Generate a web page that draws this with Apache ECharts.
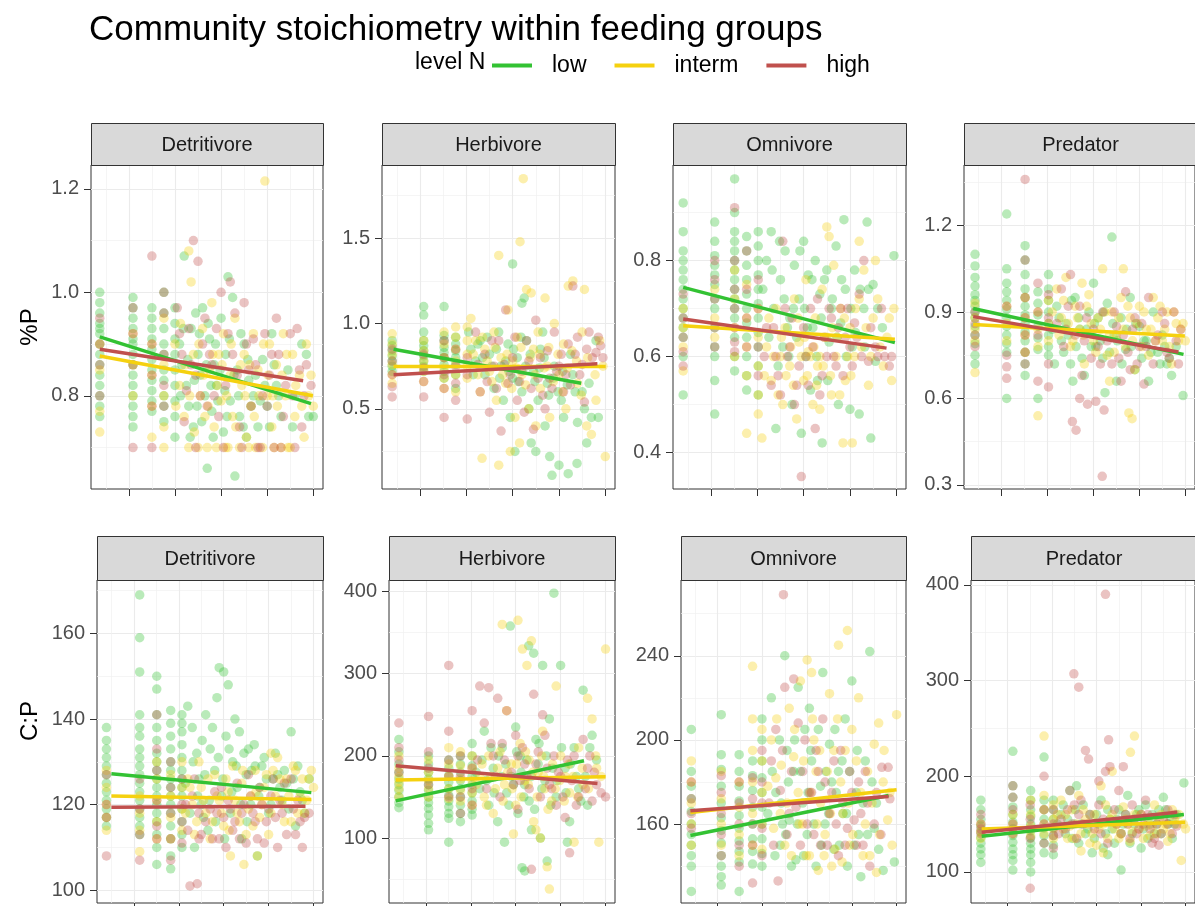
<!DOCTYPE html>
<html><head><meta charset="utf-8">
<script src="https://cdn.jsdelivr.net/npm/echarts@6/dist/echarts.min.js"></script>
<style>html,body{margin:0;padding:0;background:#fff}#c{width:1195px;height:906px}</style>
</head><body><div id="c"></div>
<script>
// ---------- categories & axes ----------
const groups = ['Detritivore','Herbivore','Omnivore','Predator'];
const levels = ['low','interm','high'];
const levelColors = ['#33C233','#F5D10F','#C0504D'];
const variables = ['%P','C:P'];
const xTicks = [1,2,3,4,5];
const xRange = [0.18, 5.21];
const yTicksP  = [[0.8,1.0,1.2],[0.5,1.0,1.5],[0.4,0.6,0.8],[0.3,0.6,0.9,1.2]];
const yRangeP  = [[0.62,1.246],[0.03,1.93],[0.324,0.999],[0.286,1.41]];
const yTicksCP = [[100,120,140,160],[100,200,300,400],[160,200,240],[100,200,300,400]];
const yRangeCP = [[97,172.5],[21,414],[122.5,276],[67.6,405]];

// ---------- fitted lines [x0, y0, x1, y1] per group ----------
const fitPLow     = [[0.37,0.914,4.95,0.785],[0.43,0.85,4.48,0.65],[0.40,0.744,4.97,0.629],[0.38,0.912,4.96,0.753]];
const fitPInterm  = [[0.37,0.877,4.99,0.80],[0.43,0.748,5.01,0.748],[0.40,0.664,4.97,0.636],[0.38,0.857,4.99,0.817]];
const fitPHigh    = [[0.37,0.89,4.78,0.829],[0.43,0.70,4.83,0.764],[0.40,0.678,4.79,0.6175],[0.38,0.884,4.85,0.761]];
const fitCPLow    = [[0.50,127.2,4.95,122.8],[0.33,145.3,4.52,194],[0.39,154.6,4.82,173.6],[0.42,137.4,4.96,160]];
const fitCPInterm = [[0.50,122.0,4.95,121.2],[0.33,170.8,5.0,174.5],[0.39,165.5,5.0,176.3],[0.42,145,4.99,152]];
const fitCPHigh   = [[0.50,119.4,4.82,119.6],[0.33,187.9,4.82,166.4],[0.39,166.3,4.82,173.1],[0.42,141.5,4.81,162.4]];

// ---------- points: each row is [x, y, y, ...] ----------
// %P
const pDetLow = [[0.37,1.0,0.98,0.96,0.94,0.93,0.92,0.9,0.88,0.86,0.84,0.82,0.8,0.78,0.76],[1.09,0.99,0.97,0.95,0.93,0.91,0.9,0.88,0.86,0.84,0.82,0.8,0.78,0.76,0.74],[1.5,0.97,0.95,0.93,0.91,0.89,0.87,0.85,0.83,0.81,0.79,0.77],[1.76,1.0,0.96,0.93,0.9,0.88,0.85,0.83,0.8,0.78,0.75],[2.0,0.97,0.94,0.91,0.88,0.85,0.82,0.79,0.76,0.72],
 [2.1,0.9],[2.15,0.86],[2.2,1.07],[2.25,0.82],[2.3,0.78],[2.35,0.93],[2.4,0.74],[2.45,0.96],[2.5,0.88],[2.55,0.84],[2.6,0.97],[2.65,0.8],[2.7,0.66],[2.75,0.91],[2.8,0.77],[2.85,0.86],[2.9,0.82],[3.0,0.95],[3.05,0.73],[3.1,0.88],[3.15,1.03],[3.2,0.79],[3.25,0.99],[3.3,0.645],[3.35,0.85],[3.4,0.76],[3.5,0.9],[3.55,0.72],[3.6,0.83],[3.7,0.8],[3.8,0.74],[3.9,0.87],[4.0,0.78],[4.1,0.92],[4.2,0.82],[4.3,0.76],[4.45,0.85],[4.6,0.8],[4.75,0.9],[4.9,0.76],
 [2.12,0.8],[2.18,0.93],[2.28,0.87],[2.33,0.72],[2.42,0.83],[2.48,0.78],[2.53,0.92],[2.58,0.75],[2.68,0.86],[2.72,0.94],[2.78,0.82],[2.83,0.72],[2.88,0.9],[2.93,0.79],[2.98,0.85],[3.08,0.81],[3.13,0.76],[3.18,0.91],[3.28,0.84],[3.38,0.8],[3.43,0.92],[3.48,0.74],[3.58,0.87],[3.65,0.78],[3.75,0.84],[3.85,0.79],[3.95,0.82],[4.05,0.74],[4.15,0.86],[4.25,0.8],[4.55,0.74],[4.85,0.88],[5.0,0.76]];
const pDetInterm = [[0.37,0.73,0.77,0.85,0.9],[1.09,0.8,0.86,0.92],[1.5,0.72,0.78,0.84,0.9],[1.76,0.7,0.74,0.8,0.86,0.95],
 [2.0,0.9],[2.1,0.82],[2.2,0.76],[2.3,1.08],[2.35,1.02],[2.4,0.88],[2.5,0.7],[2.55,0.8],[2.6,0.93],[2.65,0.76],[2.7,0.7],[2.75,0.85],[2.8,0.98],[2.85,0.74],[2.9,0.7],[2.95,0.88],[3.0,0.79],[3.05,0.92],[3.1,0.7],[3.2,0.84],[3.25,0.76],[3.3,0.95],[3.4,0.7],[3.45,0.82],[3.5,0.88],[3.55,0.72],[3.6,0.7],[3.65,0.78],[3.7,0.92],[3.8,0.85],[3.9,0.7],[3.95,1.215],[4.0,0.8],[4.05,0.9],[4.1,0.74],[4.2,0.86],[4.3,0.7],[4.35,0.92],[4.4,0.8],[4.5,0.7],[4.55,0.88],[4.6,0.76],[4.7,0.84],[4.8,0.72],[4.85,0.9],[4.9,0.8],[5.0,0.78],
 [2.02,0.78],[2.12,0.94],[2.22,0.86],[2.32,0.8],[2.42,0.73],[2.52,0.9],[2.62,0.84],[2.72,0.78],[2.82,0.88],[2.92,0.82],[3.02,0.86],[3.12,0.8],[3.22,0.9],[3.32,0.74],[3.42,0.86],[3.52,0.8],[3.62,0.86],[3.72,0.76],[3.82,0.8],[3.92,0.9],[4.02,0.84],[4.12,0.8],[4.22,0.78],[4.32,0.84],[4.42,0.88],[4.62,0.82],[4.75,0.78],[4.95,0.84],[3.15,0.7],[3.75,0.7],[4.15,0.7],[4.45,0.7],[2.3,0.7]];
const pDetHigh = [[0.37,0.8,0.86,0.9,0.95],[1.09,0.7,0.86,0.92,0.97],[1.5,0.7,0.78,0.84,0.9,1.07],[1.76,0.78,0.82,0.88,0.96,1.0],
 [2.05,0.97],[2.15,0.88],[2.25,0.81],[2.3,0.93],[2.4,1.1],[2.45,0.84],[2.5,1.06],[2.6,0.9],[2.7,0.78],[2.8,0.86],[2.9,0.93],[2.95,0.76],[3.0,1.0],[3.05,0.7],[3.1,0.82],[3.2,1.02],[3.25,0.88],[3.3,0.96],[3.4,0.74],[3.45,0.7],[3.5,0.98],[3.6,0.85],[3.7,0.91],[3.8,0.7],[3.9,0.8],[4.0,0.78],[4.1,0.88],[4.2,0.95],[4.3,0.7],[4.4,0.82],[4.5,0.92],[4.6,0.7],[4.65,0.93],[4.7,0.85],[4.8,0.8],[4.95,0.82],
 [2.1,0.92],[2.2,0.75],[2.35,0.86],[2.55,0.8],[2.65,0.95],[2.75,0.88],[2.85,0.8],[3.15,0.92],[3.35,0.84],[3.55,0.9],[3.65,0.78],[3.75,0.86],[3.95,0.92],[4.05,0.84],[4.25,0.88],[4.35,0.76],[4.55,0.8],[4.75,0.74],[4.85,0.86],[3.85,0.7],[4.15,0.7],[2.45,0.7]];
const pHerLow = [[0.4,0.9,0.87,0.84,0.81,0.78,0.75,0.72],[1.08,1.1,1.05,0.95,0.9,0.87,0.84,0.81,0.78,0.75,0.72],[1.52,1.1,0.93,0.9,0.86,0.83,0.8,0.76,0.72,0.68],[1.77,0.92,0.88,0.84,0.8,0.76,0.7,0.62],
 [2.05,0.95],[2.1,0.85],[2.2,0.78],[2.3,0.9],[2.4,0.7],[2.5,0.82],[2.6,0.62],[2.7,0.95],[2.75,0.75],[2.8,0.55],[2.9,0.88],[2.95,0.45],[3.0,1.35,0.68],[3.05,0.25],[3.1,0.8],[3.2,1.12,0.6],[3.25,1.15],[3.3,0.9],[3.35,0.5],[3.4,0.3],[3.45,0.72],[3.5,0.25],[3.55,0.55],[3.6,0.85],[3.65,0.95],[3.7,0.4],[3.75,0.65],[3.8,0.22],[3.85,0.11],[3.9,0.75],[4.0,0.17],[4.05,0.55],[4.1,0.45],[4.2,0.12],[4.25,0.82],[4.3,0.7],[4.39,0.18],[4.4,0.42],[4.5,0.6],[4.6,0.3],[4.7,0.45],[4.8,0.9],[4.85,0.45],
 [2.15,0.7],[2.25,0.88],[2.35,0.8],[2.45,0.92],[2.55,0.75],[2.65,0.85],[2.72,0.68],[2.85,0.78],[2.92,0.72],[3.02,0.85],[3.12,0.66],[3.18,0.92],[3.28,0.75],[3.38,0.82],[3.48,0.66],[3.58,0.74],[3.68,0.8],[3.78,0.58],[3.88,0.68],[3.98,0.6],[4.08,0.72],[4.18,0.64],[4.35,0.6],[4.55,0.5],[4.65,0.65]];
const pHerInterm = [[0.4,0.94,0.88,0.82,0.76,0.7,0.65],[1.08,0.9,0.84,0.78,0.72,0.66],[1.52,0.95,0.88,0.8,0.74,0.68,0.62],[1.77,0.98,0.92,0.85,0.78,0.7,0.6],[2.02,0.98,0.9,0.82,0.75,0.68],
 [2.1,1.03],[2.2,0.9],[2.3,0.6],[2.34,0.21],[2.4,0.85],[2.5,0.72],[2.6,0.95],[2.65,0.55],[2.7,1.4,0.17],[2.75,0.8],[2.85,0.65],[2.9,1.08],[2.95,0.25],[3.0,0.78],[3.05,0.45],[3.1,0.92],[3.15,0.3],[3.16,1.48],[3.23,1.85],[3.2,0.7],[3.3,1.2],[3.35,0.5],[3.4,1.18],[3.45,0.85],[3.5,0.4],[3.55,0.95],[3.6,0.62],[3.7,1.15],[3.75,0.75],[3.8,0.45],[3.9,1.0],[4.0,0.7],[4.1,0.88],[4.15,0.5],[4.2,1.22],[4.3,1.25],[4.4,0.65],[4.5,0.95],[4.55,1.2],[4.6,0.4],[4.7,0.35],[4.8,0.55],[4.95,0.75],[5.0,0.22],
 [2.15,0.82],[2.25,0.7],[2.35,0.92],[2.45,0.78],[2.55,0.66],[2.62,0.86],[2.78,0.7],[2.88,0.82],[2.98,0.62],[3.08,0.74],[3.18,0.86],[3.28,0.64],[3.38,0.8],[3.48,0.7],[3.58,0.82],[3.68,0.74],[3.78,0.86],[3.88,0.66],[3.98,0.82],[4.08,0.6],[4.18,0.74],[4.28,0.84],[4.38,0.78],[4.48,0.58],[4.62,0.8],[4.78,0.7],[4.88,0.9]];
const pHerHigh = [[0.4,0.85,0.78,0.7,0.63,0.57],[1.08,0.82,0.74,0.66,0.57],[1.52,0.9,0.8,0.7,0.62,0.45],[1.77,0.85,0.75,0.65,0.55],[2.02,0.8,0.7,0.44],
 [2.2,0.95],[2.3,0.6],[2.4,0.82],[2.5,0.48],[2.6,0.75],[2.7,0.9],[2.75,0.37],[2.85,1.08],[2.9,0.65],[3.0,0.8],[3.1,0.55],[3.2,0.72],[3.25,0.48],[3.3,0.9],[3.4,0.62],[3.45,0.38],[3.5,1.02],[3.6,0.8],[3.7,0.5],[3.8,0.68],[3.9,0.95],[4.0,0.75],[4.1,0.6],[4.2,0.88],[4.3,1.22],[4.35,0.82],[4.45,0.7],[4.55,0.54],[4.65,0.95],[4.8,0.83],[4.9,0.87],[4.95,0.8],
 [2.25,0.76],[2.45,0.66],[2.55,0.9],[2.65,0.62],[2.82,0.76],[2.95,0.7],[3.05,0.92],[3.15,0.66],[3.35,0.78],[3.55,0.68],[3.65,0.58],[3.75,0.84],[3.85,0.62],[3.95,0.72],[4.05,0.82],[4.15,0.7],[4.25,0.64],[4.4,0.92],[4.5,0.76],[4.6,0.85],[4.72,0.8],[4.85,0.92]];
const pOmnLow = [[0.4,0.92,0.86,0.82,0.8,0.78,0.76,0.74,0.72,0.7,0.68,0.66,0.64,0.6,0.52],[1.08,0.88,0.84,0.81,0.79,0.77,0.75,0.72,0.7,0.66,0.62,0.6,0.55,0.48],[1.51,0.97,0.9,0.86,0.84,0.82,0.8,0.78,0.76,0.74,0.72,0.7,0.68,0.64,0.6,0.57],[1.77,0.85,0.82,0.79,0.76,0.73,0.7,0.67,0.64,0.6,0.56,0.53],[2.02,0.86,0.83,0.8,0.77,0.74,0.71,0.68,0.65,0.62,0.58,0.52],
 [2.2,0.8],[2.3,0.86],[2.35,0.7],[2.4,0.45],[2.5,0.76],[2.55,0.62],[2.6,0.82],[2.65,0.66],[2.7,0.68],[2.75,0.5],[2.8,0.79],[2.9,0.72],[2.95,0.44],[3.0,0.84],[3.05,0.6],[3.1,0.77],[3.15,0.53],[3.2,0.66],[3.25,0.8],[3.3,0.55],[3.35,0.73],[3.4,0.42],[3.5,0.78],[3.55,0.63],[3.6,0.7],[3.7,0.83],[3.75,0.5],[3.8,0.67],[3.87,0.885],[3.9,0.74],[4.0,0.49],[4.05,0.62],[4.1,0.78],[4.2,0.48],[4.3,0.7],[4.37,0.88],[4.4,0.74],[4.45,0.43],[4.55,0.59],[4.95,0.81],
 [2.12,0.74],[2.25,0.64],[2.32,0.78],[2.45,0.58],[2.48,0.84],[2.58,0.72],[2.68,0.6],[2.78,0.7],[2.85,0.64],[2.92,0.82],[3.02,0.7],[3.08,0.66],[3.18,0.76],[3.28,0.6],[3.38,0.68],[3.45,0.76],[3.52,0.55],[3.62,0.72],[3.72,0.64],[3.82,0.76],[3.92,0.6],[4.02,0.7],[4.12,0.65],[4.22,0.74],[4.32,0.62],[4.5,0.75],[4.6,0.7],[4.7,0.66]];
const pOmnInterm = [[0.4,0.7,0.66,0.62,0.57],[1.08,0.74,0.68,0.64],[1.51,0.78,0.72,0.66,0.6],[1.77,0.75,0.68,0.62,0.56,0.44],[2.02,0.7,0.64,0.58,0.52,0.48],
 [2.1,0.43],[2.2,0.62],[2.3,0.55],[2.4,0.7],[2.5,0.6],[2.55,0.5],[2.6,0.66],[2.7,0.58],[2.8,0.72],[2.85,0.47],[2.9,0.63],[3.0,0.55],[3.05,0.76],[3.1,0.61],[3.2,0.5],[3.25,0.68],[3.3,0.58],[3.35,0.49],[3.4,0.74],[3.45,0.64],[3.5,0.87],[3.55,0.85],[3.6,0.52],[3.65,0.79],[3.7,0.6],[3.8,0.7],[3.85,0.42],[3.9,0.55],[4.0,0.66],[4.05,0.42],[4.1,0.6],[4.2,0.72,0.84],[4.3,0.78],[4.4,0.54],[4.5,0.68],[4.55,0.8],[4.65,0.62],[4.8,0.64],[4.9,0.55],[4.95,0.7],
 [2.15,0.56],[2.25,0.68],[2.35,0.6],[2.45,0.52],[2.52,0.64],[2.62,0.56],[2.72,0.62],[2.78,0.54],[2.88,0.68],[2.95,0.6],[3.02,0.64],[3.08,0.56],[3.15,0.6],[3.22,0.62],[3.28,0.54],[3.35,0.6],[3.42,0.58],[3.5,0.64],[3.58,0.56],[3.62,0.66],[3.72,0.64],[3.78,0.52],[3.88,0.68],[3.95,0.6],[4.02,0.56],[4.12,0.7],[4.25,0.62],[4.35,0.66],[4.45,0.6],[4.6,0.72],[4.72,0.58],[4.85,0.68]];
const pOmnHigh = [[0.4,0.73,0.68,0.64,0.61,0.58],[1.08,0.8,0.76,0.72,0.66,0.62],[1.51,0.91,0.8,0.74,0.7,0.66,0.63,0.61],[1.77,0.82,0.74,0.68,0.62],[2.02,0.76,0.7,0.62,0.56],
 [2.2,0.66],[2.3,0.54],[2.4,0.6],[2.5,0.52],[2.55,0.84],[2.6,0.7],[2.7,0.62],[2.8,0.5],[2.9,0.58],[2.95,0.35],[3.0,0.66],[3.1,0.54],[3.2,0.62],[3.25,0.45],[3.3,0.72],[3.4,0.56],[3.5,0.6],[3.6,0.68],[3.7,0.58],[3.8,0.7],[3.9,0.64],[4.0,0.62],[4.1,0.67],[4.2,0.73],[4.3,0.8],[4.4,0.59],[4.6,0.6],[4.75,0.6],[4.85,0.58],[4.9,0.6],
 [2.15,0.6],[2.35,0.66],[2.45,0.56],[2.65,0.6],[2.75,0.68],[2.85,0.54],[3.05,0.6],[3.15,0.7],[3.35,0.52],[3.45,0.64],[3.55,0.7],[3.65,0.6],[3.75,0.66],[3.85,0.56],[3.95,0.7],[4.05,0.58],[4.15,0.64],[4.25,0.6],[4.45,0.66],[4.55,0.62],[4.68,0.7]];
const pPreLow = [[0.42,1.1,1.06,1.02,0.99,0.96,0.94,0.92,0.9,0.88,0.85,0.82,0.79,0.75,0.72],[1.11,1.24,1.05,1.0,0.97,0.94,0.91,0.88,0.85,0.82,0.79,0.76,0.6],[1.51,1.13,1.08,1.03,0.98,0.95,0.92,0.89,0.86,0.83,0.8,0.76,0.72,0.68],[1.79,0.97,0.93,0.89,0.85,0.81,0.77,0.6],[2.02,1.03,0.98,0.94,0.9,0.86,0.82,0.78,0.75],
 [2.2,0.92],[2.3,0.8],[2.4,0.86],[2.5,0.72],[2.55,0.66],[2.6,0.95],[2.7,0.84],[2.8,0.68],[2.9,0.9],[3.0,1.0],[3.05,0.78],[3.1,0.88],[3.2,0.74],[3.25,0.62],[3.3,0.93],[3.4,1.16],[3.45,0.82],[3.5,0.66],[3.6,0.88],[3.7,0.77],[3.8,0.95],[3.9,0.7],[4.0,0.85],[4.1,0.8],[4.2,0.66],[4.3,0.9],[4.4,0.76],[4.5,0.82],[4.6,0.72],[4.7,0.68],[4.8,0.78],[4.95,0.61],
 [2.1,0.84],[2.15,0.72],[2.25,0.88],[2.35,0.76],[2.45,0.82],[2.52,0.94],[2.62,0.78],[2.68,0.88],[2.75,0.74],[2.85,0.84],[2.95,0.78],[3.02,0.86],[3.15,0.8],[3.22,0.9],[3.35,0.76],[3.42,0.86],[3.52,0.8],[3.62,0.72],[3.72,0.84],[3.82,0.78],[3.92,0.86],[4.05,0.74],[4.15,0.8],[4.25,0.76],[4.45,0.72],[4.55,0.78],[4.65,0.74]];
const pPreInterm = [[0.42,0.93,0.88,0.84,0.8,0.69],[1.11,0.92,0.86,0.8],[1.51,0.95,0.88,0.82,0.76],[1.79,0.9,0.84,0.78,0.54],[2.02,0.94,0.86,0.8],
 [2.2,0.98],[2.3,0.88],[2.4,1.02],[2.5,0.78],[2.6,0.92],[2.7,0.84],[2.75,1.0],[2.8,0.72],[2.9,0.96],[3.0,0.8],[3.1,0.88],[3.2,1.05],[3.3,0.75],[3.35,0.66],[3.4,0.9],[3.5,0.82],[3.6,0.95],[3.65,1.05],[3.7,0.78],[3.77,0.55],[3.8,0.88],[3.84,0.53],[3.9,0.7],[4.0,0.92],[4.15,0.84],[4.2,0.75],[4.3,0.95],[4.4,0.88],[4.5,0.8],[4.6,0.9],[4.7,0.72],[4.8,0.86],[4.9,0.84],[5.0,0.8],
 [2.1,0.9],[2.25,0.82],[2.35,0.94],[2.45,0.86],[2.55,0.8],[2.65,0.88],[2.78,0.82],[2.85,0.92],[2.95,0.86],[3.05,0.76],[3.15,0.84],[3.25,0.9],[3.35,0.82],[3.45,0.76],[3.55,0.88],[3.65,0.84],[3.75,0.92],[3.85,0.8],[3.95,0.86],[4.05,0.78],[4.1,0.9],[4.25,0.84],[4.35,0.8],[4.45,0.92],[4.55,0.84],[4.65,0.78],[4.75,0.9],[4.85,0.8],[4.95,0.86]];
const pPreHigh = [[0.42,0.9,0.86,0.82,0.78],[1.11,0.92,0.75,0.71,0.67],[1.51,1.36,1.08,0.95,0.88,0.82,0.76,0.72],[1.79,1.0,0.9,0.82,0.66],[2.02,0.96,0.88,0.72,0.64],
 [2.3,0.98],[2.4,0.84],[2.5,1.03],[2.54,0.52],[2.62,0.49],[2.7,0.6,0.92],[2.75,0.68],[2.8,0.8],[2.87,0.58],[3.05,0.59],[3.1,0.78],[3.19,0.33],[3.2,0.9],[3.23,0.56],[3.4,0.72],[3.5,0.85],[3.6,0.66],[3.7,0.97],[3.8,0.7],[3.9,0.88],[4.0,0.78],[4.1,0.65],[4.2,0.95],[4.3,0.72],[4.4,0.82],[4.5,0.9],[4.6,0.76],[4.75,0.9],[4.85,0.72],
 [2.2,0.86],[2.35,0.78],[2.45,0.92],[2.6,0.82],[2.85,0.88],[2.95,0.74],[3.0,0.84],[3.15,0.72],[3.3,0.8],[3.45,0.9],[3.55,0.74],[3.65,0.82],[3.75,0.76],[3.85,0.84],[3.95,0.72],[4.05,0.86],[4.15,0.78],[4.35,0.8],[4.55,0.86],[4.65,0.74],[4.8,0.8],[4.9,0.84]];
// C:P
const cpDetLow = [[0.39,138,135,133,131,129,127,125,123,121,119,117,115],[1.13,169,159,151,141,138,136,133,131,129,127,125,123,121,119,117,115,113],[1.51,150,147,141,138,135,132,130,128,126,124,122,120,118,116,113,110,106],[1.82,142,139,136,133,130,128,126,124,122,120,118,115,112,108,105],[2.07,141,139,137,134,131,128,126,124,122,119,116,113,110],
 [2.2,143],[2.3,138],[2.35,110],[2.4,132],[2.45,126],[2.5,120],[2.55,117],[2.6,141],[2.65,114],[2.7,133],[2.8,128],[2.85,145],[2.9,152],[2.95,122],[3.0,151],[3.05,136],[3.1,148],[3.15,118],[3.2,130],[3.25,140],[3.3,124],[3.35,137],[3.4,112],[3.5,127],[3.55,133],[3.6,120],[3.7,129],[3.75,108],[3.8,124],[3.9,131],[4.0,118],[4.1,126],[4.2,127],[4.3,121],[4.4,125],[4.5,137],[4.6,115],[4.7,123],[4.8,118],[4.9,126],
 [2.15,125],[2.25,118],[2.32,130],[2.42,122],[2.52,135],[2.58,127],[2.68,121],[2.75,138],[2.82,116],[2.88,131],[2.98,126],[3.02,112],[3.12,133],[3.18,123],[3.28,129],[3.38,120],[3.45,132],[3.52,116],[3.62,128],[3.68,134],[3.78,122],[3.85,129],[3.95,126],[4.05,120],[4.15,132],[4.25,124],[4.35,128],[4.45,119],[4.55,126],[4.65,129],[4.75,121]];
const cpDetInterm = [[0.39,128,124,120,117,114],[1.13,122,118,114,109],[1.51,130,126,121,116,112],[1.82,127,122,117,112],[2.07,130,124,119,114],
 [2.2,126],[2.3,120],[2.4,116],[2.45,130],[2.5,124],[2.6,118],[2.7,112],[2.8,127],[2.9,121],[3.0,115],[3.1,123],[3.15,108],[3.2,129],[3.3,118],[3.4,125],[3.45,106],[3.5,113],[3.6,122],[3.7,128],[3.75,108],[3.8,117],[3.9,124],[4.0,113],[4.05,132],[4.1,128],[4.2,131],[4.3,120],[4.4,126],[4.5,116],[4.6,128],[4.7,122],[4.8,118],[4.9,126],[5.0,124],
 [2.15,118],[2.25,124],[2.35,113],[2.55,121],[2.65,126],[2.75,116],[2.85,122],[2.95,118],[3.05,126],[3.12,114],[3.25,121],[3.35,116],[3.42,128],[3.55,119],[3.65,115],[3.72,123],[3.85,120],[3.95,127],[4.05,118],[4.15,122],[4.25,126],[4.35,116],[4.45,122],[4.55,129],[4.65,118],[4.75,126],[4.85,121],[4.95,128]];
const cpDetHigh = [[0.39,127,120,117,108],[1.13,126,119,113,107],[1.51,141,133,128,121,115,112],[1.82,130,124,118,112,107],[2.07,126,120,116,111],
 [2.2,114],[2.25,101],[2.3,122],[2.41,101.5],[2.45,118],[2.5,113],[2.7,119],[2.8,123],[2.9,112],[3.0,117],[3.1,121],[3.2,114],[3.3,125],[3.4,118],[3.5,111],[3.55,127],[3.6,122],[3.7,116],[3.8,124],[3.9,111],[4.0,119],[4.1,126],[4.2,110],[4.3,118],[4.4,113],[4.5,126],[4.6,113],[4.7,116],[4.8,117],[4.9,118],
 [2.15,120],[2.35,126],[2.45,112],[2.6,116],[2.75,112],[2.85,118],[2.95,124],[3.05,110],[3.15,119],[3.25,116],[3.35,112],[3.45,120],[3.65,118],[3.75,112],[3.85,120],[3.95,116],[4.05,122],[4.15,117],[4.25,121],[4.35,125],[4.55,119],[4.65,121],[4.75,110]];
const cpHerLow = [[0.4,220,205,190,180,172,165,158,150,143,137],[1.06,200,190,180,172,165,158,150,143,136,128,118,110],[1.51,195,185,176,168,160,152,145,138,130,124,95],[1.77,200,190,180,170,160,150,140,130,120],[2.03,215,200,188,175,165,155,145,135,128],
 [2.2,160],[2.3,230],[2.4,140],[2.5,185],[2.6,120],[2.7,210],[2.75,95],[2.8,155],[2.88,358],[2.9,175],[3.0,235],[3.05,130],[3.1,200],[3.14,64],[3.2,165,60],[3.29,334],[3.3,145],[3.35,110],[3.4,325],[3.45,220],[3.5,190],[3.55,100],[3.6,310],[3.65,170],[3.7,72],[3.75,245],[3.85,398],[3.9,150],[4.0,310],[4.1,185],[4.15,95],[4.2,120],[4.3,210],[4.4,160],[4.5,280],[4.55,175],[4.6,140],[4.7,225],[4.8,195],
 [2.12,180],[2.25,195],[2.35,170],[2.45,210],[2.52,155],[2.62,200],[2.68,175],[2.78,190],[2.85,140],[2.95,165],[3.02,205],[3.12,180],[3.18,150],[3.25,195],[3.35,175],[3.42,135],[3.52,215],[3.58,160],[3.68,200],[3.78,140],[3.82,185],[3.92,170],[4.02,210],[4.12,155],[4.22,190],[4.35,175],[4.45,145],[4.65,210]];
const cpHerInterm = [[0.4,200,185,175,168,160,150],[1.06,195,180,170,160,150],[1.51,210,190,175,160,148],[1.77,205,188,172,158,145],[2.03,200,185,170,155,140],
 [2.2,175],[2.3,150],[2.4,200],[2.5,130],[2.6,185],[2.7,360],[2.75,165],[2.8,255],[2.9,190],[2.95,105],[3.0,140],[3.05,365],[3.1,215],[3.15,330],[3.2,170],[3.25,310],[3.3,195],[3.35,340],[3.4,120],[3.45,110],[3.5,180],[3.55,100],[3.6,230],[3.65,160],[3.7,65],[3.75,38],[3.8,145],[3.9,285],[4.0,200],[4.1,175],[4.2,155],[4.3,95],[4.4,210],[4.5,165],[4.6,270],[4.7,245],[4.8,185],[4.85,95],[4.9,175],[5.0,330],
 [2.12,165],[2.25,190],[2.35,140],[2.45,175],[2.55,160],[2.65,205],[2.72,145],[2.82,180],[2.92,160],[3.02,190],[3.12,150],[3.22,205],[3.28,165],[3.38,180],[3.48,150],[3.58,200],[3.62,175],[3.72,135],[3.82,190],[3.88,160],[3.98,170],[4.08,145],[4.18,190],[4.28,175],[4.38,150],[4.48,185],[4.62,160],[4.78,200]];
const cpHerHigh = [[0.4,240,210,195,180],[1.06,248,205,185,165],[1.51,310,230,195,175,150],[1.77,200,175,150,130],[2.03,255,185,160,140],
 [2.2,285],[2.3,240],[2.4,283],[2.5,200],[2.6,270],[2.7,215],[2.8,255],[2.9,180],[3.0,225],[3.05,135],[3.1,170],[3.2,190],[3.3,160],[3.35,62],[3.4,275],[3.5,205],[3.6,250],[3.7,185],[3.8,160],[3.9,140],[4.0,175],[4.1,125],[4.2,82],[4.3,200],[4.4,150],[4.5,220],[4.6,185],[4.7,145],[4.8,165],[4.9,155],[5.0,150],
 [2.15,195],[2.35,160],[2.45,215],[2.55,175],[2.65,150],[2.75,195],[2.95,165],[3.05,200],[3.15,210],[3.25,175],[3.45,190],[3.55,150],[3.65,225],[3.75,165],[3.85,200],[3.95,180],[4.05,150],[4.15,195],[4.25,170],[4.35,140],[4.55,160],[4.65,200],[4.75,180]];
const cpOmnLow = [[0.41,205,185,178,172,166,160,155,150,145,140,128],[1.08,212,193,186,178,170,163,157,151,145,140,135,131],[1.48,193,185,178,171,164,158,152,147,142,128],[1.78,190,183,176,168,160,153,147,141],[1.99,210,200,190,182,175,168,160,153,146,140],
 [2.2,220],[2.3,175],[2.4,150],[2.45,160],[2.5,240],[2.55,195],[2.6,162],[2.7,185],[2.75,143],[2.8,225],[2.9,170],[2.95,205],[3.0,155],[3.05,215],[3.1,190],[3.2,140],[3.3,178],[3.35,232],[3.4,160],[3.5,198],[3.6,148],[3.65,175],[3.7,185],[3.8,165],[3.85,210],[3.9,140],[4.0,228],[4.1,175],[4.15,155],[4.2,135],[4.3,190],[4.4,242],[4.5,158],[4.6,148],[4.7,138],[4.95,142],
 [2.12,165],[2.22,185],[2.28,145],[2.38,200],[2.42,170],[2.52,155],[2.58,180],[2.65,140],[2.72,200],[2.78,160],[2.85,185],[2.92,145],[3.02,175],[3.08,195],[3.15,160],[3.25,205],[3.32,150],[3.42,185],[3.48,165],[3.55,180],[3.62,205],[3.72,150],[3.78,190],[3.88,165],[3.95,185],[4.05,150],[4.12,195],[4.25,170],[4.35,155],[4.45,180],[4.55,170]];
const cpOmnInterm = [[0.41,190,180,170,160,150],[1.08,185,172,160,150],[1.48,180,168,155,145],[1.78,235,210,195,180,165,150],[1.99,205,190,175,160,148],
 [2.2,200],[2.3,182],[2.4,165],[2.5,150],[2.6,215],[2.7,192],[2.8,175],[2.85,228],[2.9,160],[3.0,238],[3.05,145],[3.1,232],[3.15,200],[3.2,185],[3.25,138],[3.3,170],[3.4,155],[3.5,222],[3.55,140],[3.6,195],[3.7,245],[3.75,180],[3.8,165],[3.9,252],[3.95,150],[4.0,205],[4.1,190],[4.2,175],[4.3,160],[4.4,145],[4.5,198],[4.55,137],[4.6,208],[4.7,180],[4.8,162],[4.9,150],[5.0,212],
 [2.12,178],[2.25,158],[2.32,210],[2.42,188],[2.55,170],[2.65,145],[2.72,205],[2.82,160],[2.92,190],[2.98,145],[3.08,175],[3.12,210],[3.22,160],[3.28,195],[3.38,145],[3.45,185],[3.52,165],[3.62,148],[3.68,210],[3.78,142],[3.85,195],[3.92,170],[4.02,155],[4.15,220],[4.25,145],[4.35,185],[4.45,170],[4.62,155],[4.72,195],[4.85,175]];
const cpOmnHigh = [[0.41,180,172,165,158],[1.08,183,175,165,155,145],[1.48,180,170,160,150,140],[1.78,182,172,160,150,132],[1.99,195,180,170,158,145],
 [2.2,190],[2.3,205],[2.35,133],[2.4,176],[2.47,269],[2.5,225],[2.6,165],[2.7,229],[2.8,208],[2.9,185],[3.0,160],[3.1,175],[3.2,195],[3.3,150],[3.4,180],[3.5,165],[3.6,190],[3.7,145],[3.8,170],[3.9,158],[4.0,175],[4.1,150],[4.2,165],[4.3,185],[4.4,140],[4.5,160],[4.67,187],[4.81,187],[4.85,172],
 [2.15,170],[2.25,150],[2.45,195],[2.55,155],[2.65,185],[2.75,168],[2.85,150],[2.95,200],[3.05,175],[3.15,155],[3.25,185],[3.35,210],[3.45,150],[3.55,175],[3.65,160],[3.75,195],[3.85,150],[3.95,185],[4.05,162],[4.15,180],[4.25,150],[4.35,170],[4.55,175],[4.65,155]];
const cpPreLow = [[0.4,175,165,155,148,142,136,130,124,118,110],[1.12,226,190,178,168,160,152,145,138,131,124,118,112,102],[1.52,185,175,165,158,150,143,136,130,124,118,110,100],[1.82,220,175,165,155,146,138,130,120],[2.03,175,165,155,146,138,128,118],
 [2.2,160],[2.3,140],[2.4,185],[2.5,150],[2.55,190],[2.6,130],[2.7,170],[2.8,145],[2.9,120],[3.0,160],[3.1,175],[3.2,140],[3.25,118],[3.3,155],[3.4,130],[3.5,165],[3.55,102],[3.6,150],[3.7,180],[3.8,140],[3.9,160],[4.0,125],[4.1,170],[4.2,150],[4.3,140],[4.4,165],[4.5,178],[4.6,150],[4.7,135],[4.8,160],[4.96,193],
 [2.12,150],[2.25,170],[2.35,155],[2.45,135],[2.52,165],[2.65,150],[2.75,140],[2.85,160],[2.95,135],[3.05,150],[3.15,125],[3.25,165],[3.35,145],[3.45,155],[3.55,140],[3.65,160],[3.75,130],[3.85,150],[3.95,165],[4.05,145],[4.15,135],[4.25,160],[4.35,150],[4.45,140],[4.55,165],[4.65,158],[4.75,150]];
const cpPreInterm = [[0.4,150,142,135],[1.12,160,150,140],[1.52,175,160,148,138],[1.82,242,180,165,150,140],[2.03,170,155,145,135],
 [2.2,175],[2.3,160],[2.4,148],[2.5,135],[2.6,180],[2.65,122],[2.7,165],[2.8,150],[2.9,140],[3.0,128],[3.1,190],[3.15,120],[3.2,170],[3.3,155],[3.35,205],[3.4,145],[3.5,135],[3.6,168],[3.7,150],[3.76,225],[3.8,142],[3.85,242],[4.0,160],[4.1,148],[4.2,138],[4.3,170],[4.4,155],[4.5,145],[4.6,132],[4.7,165],[4.8,150],[4.9,112],[5.0,145],
 [2.12,160],[2.25,145],[2.35,135],[2.45,165],[2.55,150],[2.65,140],[2.75,155],[2.85,130],[2.95,160],[3.05,145],[3.15,150],[3.25,135],[3.35,160],[3.45,150],[3.55,140],[3.65,155],[3.75,132],[3.85,160],[3.95,145],[4.05,135],[4.15,155],[4.25,148],[4.35,140],[4.45,160],[4.55,150],[4.65,140],[4.75,155],[4.85,160],[4.95,150]];
const cpPreHigh = [[0.4,160,150,145,140],[1.12,190,178,165,150,140],[1.51,170,155,145,135,83],[1.82,200,165,150,130],[2.03,165,150,138,125],
 [2.2,155],[2.3,145],[2.4,185],[2.49,307],[2.5,170],[2.6,293,160],[2.7,150],[2.75,227],[2.82,218],[3.05,195],[3.1,140],[3.2,390,205],[3.27,238],[3.3,210],[3.4,165],[3.5,185],[3.6,210],[3.7,150],[3.8,170],[3.9,140],[4.0,160],[4.1,175],[4.2,145],[4.3,135],[4.4,128],[4.5,155],[4.6,165],[4.7,140],[4.8,148],
 [2.15,140],[2.35,165],[2.45,150],[2.55,135],[2.65,175],[2.85,160],[2.95,145],[3.05,170],[3.15,155],[3.25,130],[3.45,150],[3.55,140],[3.65,160],[3.75,135],[3.85,155],[3.95,145],[4.05,150],[4.15,160],[4.25,130],[4.35,150],[4.45,140],[4.6,150],[4.75,160]];

// ---------- assemble ----------
const pctP = [[pDetLow,pDetInterm,pDetHigh],[pHerLow,pHerInterm,pHerHigh],[pOmnLow,pOmnInterm,pOmnHigh],[pPreLow,pPreInterm,pPreHigh]];
const ratioCP = [[cpDetLow,cpDetInterm,cpDetHigh],[cpHerLow,cpHerInterm,cpHerHigh],[cpOmnLow,cpOmnInterm,cpOmnHigh],[cpPreLow,cpPreInterm,cpPreHigh]];
const fits = [[fitPLow,fitPInterm,fitPHigh],[fitCPLow,fitCPInterm,fitCPHigh]];

function expand(rows){const out=[];rows.forEach(r=>{for(let k=1;k<r.length;k++)out.push([r[0],r[k]]);});return out;}

// layout (pixels)
const gridTop = [165, 580], gridHeight = [324, 323], stripTop = [123, 536];
const gridLeft = [[91,382,673,964],[97,389,681,971]];
const gridWidth = [[232,233,233,233],[226,226,225,226]];
const FONT = "'Liberation Sans', Arial, Helvetica, sans-serif";

const grid=[], xAxis=[], yAxis=[], series=[], graphic=[];
for (let r=0;r<2;r++){
  for (let g=0;g<4;g++){
    const i=r*4+g;
    const ticks = r===0?yTicksP[g]:yTicksCP[g];
    const range = r===0?yRangeP[g]:yRangeCP[g];
    const step = ticks[1]-ticks[0];
    grid.push({left:gridLeft[r][g],top:gridTop[r],width:gridWidth[r][g],height:gridHeight[r],show:true,borderColor:'#333333',borderWidth:1,backgroundColor:'#ffffff',containLabel:false});
    xAxis.push({gridIndex:i,type:'value',min:xRange[0],max:xRange[1],minInterval:1,maxInterval:1,
      axisLine:{show:false},axisTick:{show:true,customValues:xTicks,length:7,lineStyle:{color:'#333333',width:1}},
      axisLabel:{show:false},splitLine:{show:true,lineStyle:{color:'#EBEBEB',width:1.1}},
      minorTick:{show:false,splitNumber:2},minorSplitLine:{show:true,lineStyle:{color:'#F1F1F1',width:0.7}}});
    yAxis.push({gridIndex:i,type:'value',min:range[0],max:range[1],minInterval:step,maxInterval:step,
      axisLine:{show:false},axisTick:{show:true,customValues:ticks,length:7,lineStyle:{color:'#333333',width:1}},
      axisLabel:{show:true,customValues:ticks,fontSize:20,color:'#4D4D4D',margin:12,fontFamily:FONT,
        formatter:v=>r===0?Number(v).toFixed(1):String(Math.round(v))},
      splitLine:{show:true,lineStyle:{color:'#EBEBEB',width:1.1}},
      minorTick:{show:false,splitNumber:2},minorSplitLine:{show:true,lineStyle:{color:'#F1F1F1',width:0.7}}});
    // strip
    graphic.push({type:'rect',z:10,shape:{x:gridLeft[r][g]+0.5,y:stripTop[r]+0.5,width:gridWidth[r][g],height:gridTop[r]-stripTop[r]},
      style:{fill:'#D9D9D9',stroke:'#333333',lineWidth:1}});
    graphic.push({type:'text',z:11,x:gridLeft[r][g]+gridWidth[r][g]/2,y:(stripTop[r]+gridTop[r])/2+1,
      style:{text:groups[g],fontSize:20,fill:'#1A1A1A',font:'20px '+FONT,textAlign:'center',textVerticalAlign:'middle'}});
    const pts = r===0?pctP[g]:ratioCP[g];
    // fitted lines first (legend takes their colour)
    for (let l=0;l<3;l++){
      const f=fits[r][l][g];
      series.push({name:levels[l],type:'line',xAxisIndex:i,yAxisIndex:i,data:[[f[0],f[1]],[f[2],f[3]]],
        symbol:'none',z:5,silent:true,lineStyle:{color:levelColors[l],width:3.5},itemStyle:{color:levelColors[l]}});
    }
    for (let l=0;l<3;l++){
      series.push({name:levels[l],type:'scatter',xAxisIndex:i,yAxisIndex:i,data:expand(pts[l]),
        symbolSize:9.5,z:2,silent:true,itemStyle:{color:levelColors[l],opacity:0.34}});
    }
  }
}
// axis titles
graphic.push({type:'text',x:30,y:327,rotation:Math.PI/2,style:{text:variables[0],font:'24px '+FONT,fill:'#000',textAlign:'center',textVerticalAlign:'middle'}});
graphic.push({type:'text',x:30,y:721,rotation:Math.PI/2,style:{text:variables[1],font:'24px '+FONT,fill:'#000',textAlign:'center',textVerticalAlign:'middle'}});
// legend title
graphic.push({type:'text',x:415,y:63,style:{text:'level N',font:'23px '+FONT,fill:'#000',textAlign:'left',textVerticalAlign:'middle'}});

const chart = echarts.init(document.getElementById('c'),null,{renderer:'canvas'});
chart.setOption({
  animation:false,
  backgroundColor:'#ffffff',
  title:{text:'Community stoichiometry within feeding groups',left:84,top:8,textStyle:{fontSize:35,fontWeight:'normal',color:'#000',fontFamily:FONT}},
  legend:{data:levels,left:487,top:49,icon:'rect',itemWidth:40,itemHeight:4,itemGap:28,selectedMode:false,
    textStyle:{fontSize:23,color:'#000',fontFamily:FONT,padding:[0,0,0,15]}},
  grid, xAxis, yAxis, series, graphic
});
</script></body></html>
